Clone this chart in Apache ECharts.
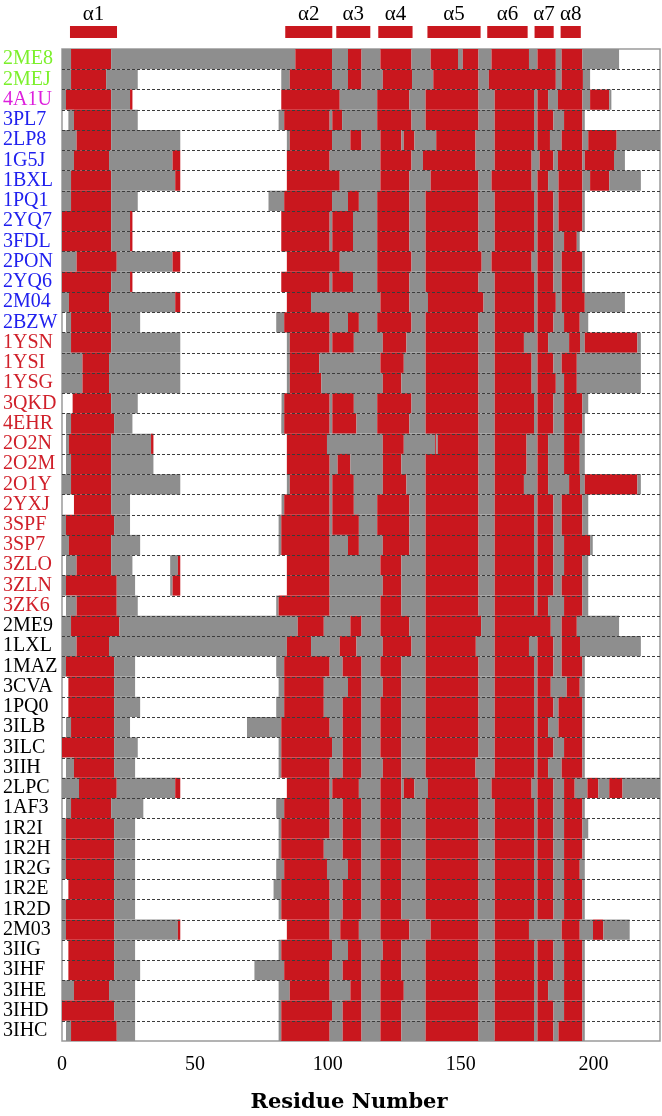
<!DOCTYPE html>
<html>
<head>
<meta charset="utf-8">
<script src="https://cdn.jsdelivr.net/npm/echarts@6/dist/echarts.min.js"></script>
<style>
  html, body { margin: 0; padding: 0; background: #fff; }
  #chart { width: 662px; height: 1116px; }
</style>
</head>
<body>
<div id="chart"></div>
<script>
const X_MAX = 225;

const proteins = ['2ME8', '2MEJ', '4A1U', '3PL7', '2LP8', '1G5J', '1BXL', '1PQ1', '2YQ7', '3FDL',
  '2PON', '2YQ6', '2M04', '2BZW', '1YSN', '1YSI', '1YSG', '3QKD', '4EHR', '2O2N', '2O2M', '2O1Y',
  '2YXJ', '3SPF', '3SP7', '3ZLO', '3ZLN', '3ZK6', '2ME9', '1LXL', '1MAZ', '3CVA', '1PQ0', '3ILB',
  '3ILC', '3IIH', '2LPC', '1AF3', '1R2I', '1R2H', '1R2G', '1R2E', '1R2D', '2M03', '3IIG', '3IHF',
  '3IHE', '3IHD', '3IHC'];

// label colour group per row: g green, m magenta, b blue, r red, k black
const labelGroup = 'ggmbbbbbbbbbbbrrrrrrrrrrrrrrkkkkkkkkkkkkkkkkkkkkk';

// each token = state + start residue (H helix, C coil, W not present); runs to next token
const rowSegments = [
  'C0 H3.4 C18.5 H87.8 C101.6 H107.6 C112.7 H119.8 C131.5 H138.7 C149 H150.8 C156.7 H161.6 C175.7 H178.9 C185.8 H188 C195.8 W209.6',
  'C0 H3.4 C16.6 W28.5 C82.5 H85.7 C101.6 H107.6 C112.7 H120.7 C131.7 H139.7 C156.7 H160.6 C185.8 H188 C196 W198.7',
  'C0 H1.5 C18.5 H25.6 W26.5 H82.5 C104.5 H118.6 C130.7 H136.8 C156.7 H162.8 C177.6 H178.9 C182.9 H186.6 C195.8 H198.7 C205.9 W206.7',
  'W0 C2.4 H4.5 C18.5 W28.5 C81.5 H83.6 C100.7 H101.7 C105.4 H118.6 C131.5 H136.8 C156.7 H162.8 C177.6 H178.9 C184.9 H188.9 C195.8 W196.7',
  'C0 H5.5 C18.5 W44.5 C84.6 H85.7 C101.6 H108.5 C112.7 H119.8 C127.7 H128.6 C132.6 H140.8 C155.6 H162.8 C177.6 H178.9 C183.6 H188 C195.8 H198 C208.7',
  'C0 H4.5 C17.7 H41.6 W44.5 H84.6 C100.7 H119.8 C131.5 H135.8 C155.6 H162.8 C176.7 H179.7 C184.9 H186.6 C195.8 H196.7 C207.7 W211.8',
  'C0 H3.4 C18.5 H42.6 W44.5 H84.6 C104.5 H119.8 C130.7 H138.7 C156.7 H161.6 C176.7 H178.9 C182.9 H186.8 C195.8 H198.7 C205.9 W217.8',
  'C0 H3.4 C18.5 W28.5 C77.7 H83.6 C101.6 H107.6 C111.7 H118.6 C130.7 H136.8 C156.7 H162.8 C177.6 H178.9 C184.9 H186.8 C195.8 W196.7',
  'H0 C18.5 H25.6 W26.5 H82.5 C100.7 H101.7 C109.5 H118.6 C130.7 H136.8 C156.7 H162.8 C177.6 H178.9 C184.9 H186.8 C195.8 W196.7',
  'H0 C18.5 H25.6 W26.5 H82.5 C100.7 H101.7 C109.5 H118.6 C130.7 H136.8 C156.7 H162.8 C177.6 H178.9 C184.9 H188.9 C193.7 W194.8',
  'C0 H5.5 C20.6 H41.6 W44.5 H84.6 C104.5 H118.6 C131.5 H136.8 C157.9 H161.6 C176.7 H178.9 C184.9 H188 C195.8 W196.7',
  'H0 C18.5 H25.6 W26.5 H82.5 C100.7 H101.7 C109.5 H118.6 C130.7 H136.8 C156.7 H162.8 C177.6 H178.9 C184.9 H188 C195.8 W196.7',
  'C0 H2.6 C17.7 H42.6 W44.5 H84.6 C93.7 H119.8 C130.7 H137.7 C158.6 H162.8 C177.6 H178.9 C185.8 H188 C196.7 W211.8',
  'W0 C1.5 H3.4 C18.5 W29.4 C80.6 H83.6 C100.7 H107.6 C111.7 H118.6 C131.5 H136.8 C156.7 H162.8 C177.6 H178.9 C184.9 H188.9 C194.8 W198',
  'C0 H3.4 C18.5 W44.5 C84.6 H85.7 C100.7 H101.7 C109.8 H120.7 C129.6 H136.8 C156.7 H162.8 C173.8 H178.9 C182.9 H190.8 C194.9 H196.7 C216.5 W217.8',
  'C0 H7.7 C17.7 W44.5 C84.6 H85.7 C96.8 H119.8 C128.6 H136.8 C156.7 H162.8 C176.7 H178.9 C184.9 H188 C193.7 W217.8',
  'C0 H7.7 C17.7 W44.5 C84.6 H85.7 C97.6 H120.7 C127.7 H136.8 C156.7 H162.8 C176.7 H178.9 C185.8 H188.9 C193.7 W217.8',
  'W0 H4 C18.5 W28.5 C82.6 H83.6 C100.7 H101.7 C109.8 H118.6 C131.5 H136.8 C156.7 H162.8 C177.6 H178.9 C184.9 H188.9 C195.8 W198',
  'W0 C1.5 H3.4 C19.6 W26.5 C82.5 H83.6 C100.7 H101.7 C110.8 H118.6 C130.7 H136.8 C156.7 H162.8 C177.6 H178.9 C184.9 H188.9 C195.8 W196.7',
  'W0 C1.5 H2.6 C18.5 H33.5 W34.4 H84.6 C99.7 H120.7 C128.6 H140.4 C140.8 H141.4 C156.7 H162.8 C174.8 H178.9 C182.9 H188.9 C194.8 W196.7',
  'W0 C1.5 H3.4 C18.5 W34.4 H84.6 C100.7 H103.7 C108.5 H120.7 C127.7 H136.8 C156.7 H162.8 C174.8 H178.9 C182.9 H188.9 C194.8 W196.7',
  'C0 H3.4 C18.5 W44.5 C84.6 H85.7 C100.7 H101.7 C109.8 H120.7 C129.6 H136.8 C156.7 H162.8 C173.8 H178.9 C182.9 H190.8 C194.9 H196.7 C216.5 W217.8',
  'W0 H4.5 C18.5 W25.6 C82.6 H83.6 C100.7 H101.7 C109.8 H118.6 C130.7 H136.8 C156.7 H162.8 C177.6 H178.9 C184.9 H188 C195.8 W198',
  'C0 H1.5 C19.6 W25.6 C81.5 H82.5 C100.7 H101.7 C111.7 H118.6 C130.7 H136.8 C156.7 H162.8 C177.6 H178.9 C184.9 H188 C195.8 W198',
  'C0 H2.6 C18.5 W29.4 C81.5 H82.5 C100.7 H107.6 C111.7 H120.7 C130.7 H136.8 C156.7 H162.8 C177.6 H178.9 C184.9 H188.9 C198.7 W199.7',
  'W0 C1.5 H5.5 C18.5 W26.5 C40.7 H43.6 W44.5 H84.6 C100.7 H119.8 C127.7 H136.8 C156.7 H162.8 C177.6 H178.9 C184.9 H188.9 C195.8 W198',
  'C0 H1.5 C20.6 W27.5 C40.7 H41.6 W44.5 H84.6 C100.7 H120.7 C127.7 H136.8 C156.7 H162.8 C177.6 H178.9 C184.9 H188 C195.8 W198',
  'W0 C1.5 H5.5 C20.6 W28.5 C80.6 H81.5 C100.7 H119.8 C127.7 H136.8 C156.7 H162.8 C177.6 H178.9 C182.9 H188.9 C195.8 W198',
  'C0 H3.4 C21.6 H88.7 C98.5 H108.5 C112.7 H119.8 C130.7 H136.8 C157.7 H162.8 C183.9 H188 C193.7 W209.6',
  'C0 H5.5 C17.7 H84.6 C93.7 H104.5 C110.8 H120.7 C131.5 H136.8 C155.7 H162.8 C175.7 H178.9 C184.9 H188 C194.9 W217.8',
  'C0 H1.5 C19.6 W27.5 C80.6 H83.6 C100.7 H105.6 C112.7 H119.8 C127.7 H136.8 C156.7 H162.8 C177.6 H178.9 C184.9 H188 C195.8 W196.7',
  'W0 H2.4 C19.6 W27.5 C81.5 H83.6 C98.5 H107.6 C112.7 H120.7 C127.7 H136.8 C156.7 H162.8 C177.6 H178.9 C183.9 H189.9 C194.8 W196.7',
  'W0 H2.4 C19.6 W29.4 C80.6 H83.6 C98.5 H105.6 C112.7 H119.8 C127.7 H136.8 C156.7 H162.8 C177.6 H178.9 C184.9 H186.8 C195.8 W196.7',
  'W0 C1.5 H3.4 C19.6 W25.6 C69.6 H82.5 C100.7 H105.6 C112.7 H119.8 C127.7 H136.8 C156.7 H162.8 C177.6 H178.9 C182.9 H186.8 C195.8 W196.7',
  'H0 C19.6 W28.5 C81.5 H82.5 C101.6 H105.6 C112.7 H119.8 C127.7 H136.8 C156.7 H162.8 C177.6 H178.9 C184.9 H188.9 C195.8 W196.7',
  'W0 C1.5 H4.5 C19.6 W27.5 C81.5 H82.5 C100.7 H105.6 C112.7 H120.7 C127.7 H136.8 C155.6 H162.8 C177.6 H178.9 C182.9 H188 C195.8 W196.7',
  'C0 H6.4 C20.6 H42.6 W44.5 H84.6 C100.7 H101.7 C111.7 H119.8 C127.7 H128.6 C132.6 H137.7 C156.7 H161.6 C176.7 H178.9 C184.9 H188.9 C192.9 H197.7 C201.8 H205.9 C210.9',
  'W0 C1.5 H3.4 C18.5 W30.6 C80.6 H83.6 C100.7 H105.6 C112.7 H119.8 C127.7 H136.8 C156.7 H162.8 C177.6 H178.9 C184.9 H188.9 C195.8 W196.7',
  'C0 H1.5 C19.6 W27.5 C81.5 H82.5 C100.7 H105.6 C112.7 H119.8 C127.7 H136.8 C156.7 H162.8 C177.6 H178.9 C184.9 H188.9 C195.8 W198',
  'C0 H1.5 C19.6 W27.5 C81.5 H82.5 C98.5 H105.6 C112.7 H119.8 C127.7 H136.8 C156.7 H162.8 C177.6 H178.9 C184.9 H188.9 C195.8 W196.7',
  'C0 H1.5 C19.6 W27.5 C80.6 H83.6 C99.7 H107.6 C112.7 H119.8 C127.7 H136.8 C156.7 H162.8 C177.6 H178.9 C184.9 H188.9 C194.8 W196.7',
  'W0 H2.4 C19.6 W27.5 C79.6 H82.5 C100.7 H105.6 C112.7 H119.8 C127.7 H136.8 C156.7 H162.8 C177.6 H178.9 C184.9 H188.9 C195.8 W196.7',
  'C0 H1.5 C19.6 W27.5 C81.5 H82.5 C100.7 H105.6 C112.7 H119.8 C127.7 H136.8 C156.7 H162.8 C177.6 H178.9 C184.9 H188.9 C195.8 W196.7',
  'C0 H1.5 C19.6 H43.6 W44.5 H84.6 C100.7 H104.7 C111.7 H119.8 C130.7 H138.7 C156.7 H162.8 C175.7 H188 C194.8 H199.8 C203.7 W213.6',
  'W0 H2.4 C19.6 W27.5 C81.5 H82.5 C101.6 H107.6 C112.7 H120.7 C127.7 H136.8 C156.7 H162.8 C177.6 H178.9 C184.9 H188.9 C195.8 W196.7',
  'W0 H2.4 C19.6 W29.4 C72.4 H83.6 C100.7 H105.6 C112.7 H119.8 C127.7 H136.8 C156.7 H162.8 C177.6 H178.9 C184.9 H188.9 C195.8 W196.7',
  'C0 H4.5 C17.7 W27.5 C81.5 H85.7 C100.7 H108.5 C112.7 H119.8 C128.6 H136.8 C156.7 H162.8 C177.6 H178.9 C182.9 H188.9 C195.8 W196.7',
  'H0 C19.6 W27.5 C81.5 H82.5 C101.6 H105.6 C112.7 H119.8 C127.7 H136.8 C156.7 H162.8 C177.6 H178.9 C184.9 H188.9 C195.8 W196.7',
  'W0 C1.5 H3.4 C20.6 W27.5 C81.5 H82.5 C100.7 H105.6 C112.7 H119.8 C127.7 H136.8 C156.7 H162.8 C177.6 H178.9 C184.9 H186.8 C195.8 W196.7'
];

// helix markers drawn above the plot
const helixNames = ['α1', 'α2', 'α3', 'α4', 'α5', 'α6', 'α7', 'α8'];
const helixStart = [3, 84, 103.2, 119, 137.5, 160, 177.8, 187.6];
const helixEnd = [20.7, 101.7, 116, 131.9, 157.5, 175.2, 185, 195.2];

const RED = '#C9171E';
const GRAY = '#8E8E8E';
const SERIF = 'Liberation Serif';

function parseRow(str, row) {
  const toks = str.split(' ').map(t => [t[0], parseFloat(t.slice(1))]);
  const out = [];
  toks.forEach((t, i) => {
    const end = i + 1 < toks.length ? toks[i + 1][1] : X_MAX;
    if (t[0] !== 'W') out.push([t[1], end, row, t[0] === 'H' ? 1 : 0]);
  });
  return out;
}

let segData = [];
rowSegments.forEach((s, i) => { segData = segData.concat(parseRow(s, i)); });

const sepData = proteins.slice(1).map((p, i) => [i + 1]);
const helixData = helixNames.map((n, i) => [helixStart[i], helixEnd[i], n]);

const chart = echarts.init(document.getElementById('chart'));

chart.setOption({
  backgroundColor: '#fff',
  animation: false,
  grid: { left: 62, right: 2, top: 49, bottom: 75, show: true, borderColor: '#9a9a9a', borderWidth: 1.5, backgroundColor: 'transparent' },
  xAxis: [
    {
      type: 'value', min: 0, max: X_MAX, interval: 50,
      axisLine: { show: false },
      axisTick: { inside: true, length: 4, lineStyle: { color: '#555' } },
      splitLine: { show: false },
      axisLabel: {
        fontFamily: SERIF, fontSize: 20, color: '#000', margin: 14, showMaxLabel: false,
        formatter: v => (v <= 200 ? String(v) : '')
      }
    },
    {
      type: 'value', min: 0, max: X_MAX, interval: 50, position: 'top',
      axisLine: { show: false },
      axisTick: { inside: true, length: 4, lineStyle: { color: '#555' } },
      axisLabel: { show: false },
      splitLine: { show: false }
    }
  ],
  yAxis: {
    type: 'category', inverse: true, data: proteins,
    axisLine: { show: false }, axisTick: { show: false }, splitLine: { show: false },
    axisLabel: {
      align: 'left', margin: 59,
      formatter: (v, i) => '{' + labelGroup[i] + '|' + v + '}',
      rich: {
        g: { color: '#7CF02C', fontFamily: SERIF, fontSize: 20 },
        m: { color: '#DD1FDD', fontFamily: SERIF, fontSize: 20 },
        b: { color: '#2020EE', fontFamily: SERIF, fontSize: 20 },
        r: { color: '#D0202A', fontFamily: SERIF, fontSize: 20 },
        k: { color: '#000', fontFamily: SERIF, fontSize: 20 }
      }
    }
  },
  graphic: [{
    type: 'text', x: 349, y: 1103,
    style: {
      text: 'Residue Number', fontFamily: 'DejaVu Serif', fontSize: 21, fontWeight: 'bold', fill: '#000',
      align: 'center', verticalAlign: 'middle'
    }
  }],
  series: [
    {
      type: 'custom', name: 'segments', data: segData, clip: true,
      encode: { x: [0, 1], y: 2 },
      renderItem: (params, api) => {
        const a = api.coord([api.value(0), api.value(2)]);
        const b = api.coord([api.value(1), api.value(2)]);
        const h = api.size([0, 1])[1];
        return {
          type: 'rect',
          shape: { x: a[0], y: a[1] - h / 2, width: b[0] - a[0], height: h },
          style: { fill: api.value(3) === 1 ? RED : GRAY }
        };
      }
    },
    {
      type: 'custom', name: 'separators', data: sepData, z: 5,
      renderItem: (params, api) => {
        const h = api.size([0, 1])[1];
        const a = api.coord([0, api.value(0)]);
        const b = api.coord([X_MAX, api.value(0)]);
        const y = Math.round(a[1] - h / 2) + 0.5;
        return {
          type: 'line',
          shape: { x1: a[0], y1: y, x2: b[0], y2: y },
          style: { stroke: '#3c3c3c', lineWidth: 1, lineDash: [3, 2] }
        };
      }
    },
    {
      type: 'custom', name: 'helices', data: helixData, clip: false, z: 6,
      renderItem: (params, api) => {
        const top = params.coordSys.y;
        const a = api.coord([api.value(0), 0]);
        const b = api.coord([api.value(1), 0]);
        return {
          type: 'group',
          children: [
            { type: 'rect', shape: { x: a[0], y: top - 23, width: b[0] - a[0], height: 12 }, style: { fill: RED } },
            {
              type: 'text',
              style: {
                text: helixData[params.dataIndex][2], x: (a[0] + b[0]) / 2, y: top - 35,
                align: 'center', verticalAlign: 'middle',
                fontFamily: SERIF, fontSize: 21, fill: '#000'
              }
            }
          ]
        };
      }
    }
  ]
});
</script>
</body>
</html>
